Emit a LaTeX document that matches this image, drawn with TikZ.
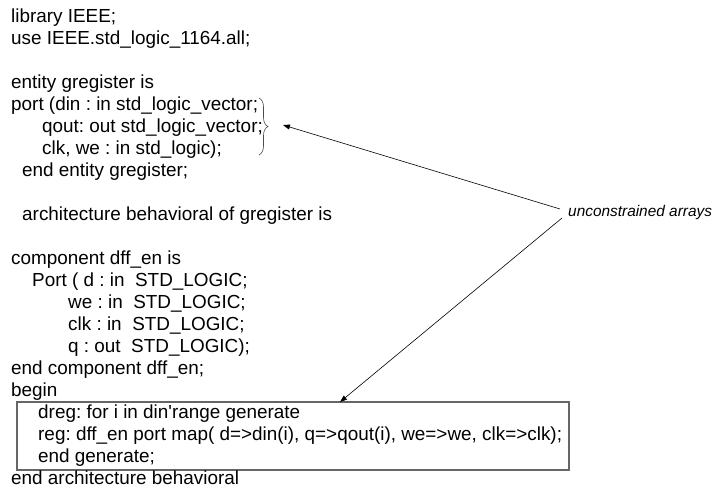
\documentclass[tikz,border=0pt]{standalone}
\usepackage{fontspec}
\setmainfont{Liberation Sans}
\usetikzlibrary{arrows.meta, positioning, decorations.pathreplacing}
\frenchspacing

\begin{document}
\begin{tikzpicture}[
    x=1pt, y=-1pt,
    code/.style={anchor=base west, inner sep=0pt, font=\fontsize{18.9}{22}\selectfont},
    note/.style={anchor=west, inner sep=0pt, font=\fontsize{15.4}{18}\selectfont\itshape},
    genbox/.style={rectangle, draw=black!60, line width=1.1pt, inner sep=0pt},
    arrow/.style={-{Triangle[length=7pt, width=5pt]}, line width=0.6pt},
    bracket/.style={decorate, decoration={brace, amplitude=9pt}, draw=black!70, line width=0.6pt}
]
\useasboundingbox (0,0) rectangle (721,496);

% Library header
\node[code] (lib) at (11,22) {library IEEE;};
\node[code] (use) at (11,44) {use IEEE.std\_logic\_1164.all;};

% Entity
\node[code] (ent) at (11,88) {entity gregister is};
\node[code] (port) at (11,110) {port (din : in std\_logic\_vector;};
\node[code] (qout) at (42,132) {qout: out std\_logic\_vector;};
\node[code] (clk) at (42,154) {clk, we : in std\_logic);};
\node[code] (endent) at (22,176) {end entity gregister;};

% Architecture and component
\node[code] (arch) at (22,220) {architecture behavioral of gregister is};
\node[code] (comp) at (11,264) {component dff\_en is};
\node[code] (cport) at (32,286) {Port ( d : in~ STD\_LOGIC;};
\node[code] (cwe) at (68,308) {we : in~ STD\_LOGIC;};
\node[code] (cclk) at (68,330) {clk : in~ STD\_LOGIC;};
\node[code] (cq) at (68,352) {q : out~ STD\_LOGIC);};
\node[code] (endcomp) at (11,374) {end component dff\_en;};
\node[code] (bgn) at (11,396) {begin};

% Generate block
\node[genbox, minimum width=552pt, minimum height=68pt] (gen) at (293,436) {};
\node[code] (dreg) at (38,418) {dreg: for i in din\textquotesingle range generate};
\node[code] (reg) at (38,440) {reg: dff\_en port map( d=>din(i), q=>qout(i), we=>we, clk=>clk);};
\node[code] (endgen) at (38,462) {end generate;};
\node[code] (endarch) at (11,484) {end architecture behavioral};

% Annotation
\node[note] (lbl) at (568,213) {unconstrained arrays};
\coordinate (brtop) at (259,98);
\coordinate (brbot) at (259,155);
\coordinate (qarr) at (283,125);
\coordinate (boxhit) at (340,402);

\draw[bracket] (brtop) -- (brbot);
\draw[arrow] ([xshift=-8pt, yshift=4pt]lbl.west) -- (qarr);
\draw[arrow] ([xshift=-6pt, yshift=-5pt]lbl.west) -- (boxhit);

\end{tikzpicture}
\end{document}
